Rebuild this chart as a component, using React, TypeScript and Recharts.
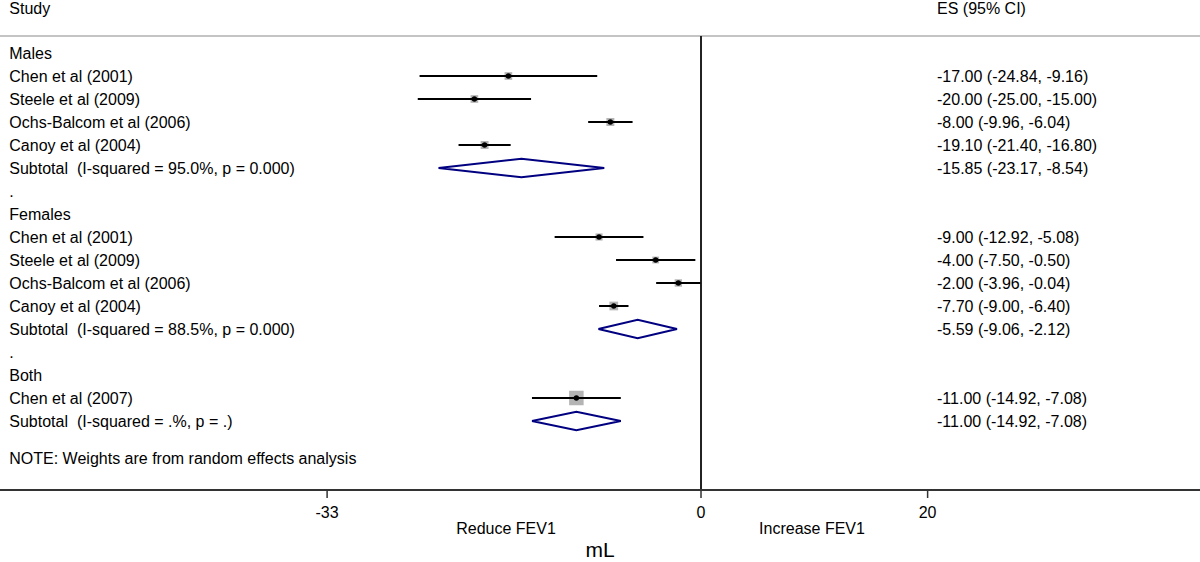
import { ComposedChart, Scatter, XAxis, YAxis, ReferenceLine } from 'recharts';

// left column, one label per row (row index = position in list)
const rowLabels = [
  'Males',
  'Chen et al (2001)',
  'Steele et al (2009)',
  'Ochs-Balcom et al (2006)',
  'Canoy et al (2004)',
  'Subtotal  (I-squared = 95.0%, p = 0.000)',
  '.',
  'Females',
  'Chen et al (2001)',
  'Steele et al (2009)',
  'Ochs-Balcom et al (2006)',
  'Canoy et al (2004)',
  'Subtotal  (I-squared = 88.5%, p = 0.000)',
  '.',
  'Both',
  'Chen et al (2007)',
  'Subtotal  (I-squared = .%, p = .)',
];

const studyRows = [1, 2, 3, 4, 8, 9, 10, 11, 15];
const studyES = [-17.0, -20.0, -8.0, -19.1, -9.0, -4.0, -2.0, -7.7, -11.0];
const studyLo = [-24.84, -25.0, -9.96, -21.4, -12.92, -7.5, -3.96, -9.0, -14.92];
const studyHi = [-9.16, -15.0, -6.04, -16.8, -5.08, -0.5, -0.04, -6.4, -7.08];
const studyWeight = [28, 28, 30, 30, 24, 22, 26, 36, 100];

const subtotalRows = [5, 12, 16];
const subtotalES = [-15.85, -5.59, -11.0];
const subtotalLo = [-23.17, -9.06, -14.92];
const subtotalHi = [-8.54, -2.12, -7.08];

const xTicks = [-33, 0, 20];

const FONT = '"Liberation Sans", Arial, Helvetica, sans-serif';
const X_MIN = -61.87;
const X_MAX = 44.04;
const Y_MIN = -2.304;
const Y_MAX = 19;
const LEFT_X = -61.05;
const RIGHT_X = 20.83;
const HEADER_Y = -1.93;
const RULE_Y = -0.74;
const NOTE_Y = 17.6;

const fmt = (v: number) => v.toFixed(2);

const leftText = [
  { x: LEFT_X, y: HEADER_Y, label: 'Study' },
  ...rowLabels.map((label, i) => ({ x: LEFT_X, y: i, label })),
  { x: LEFT_X, y: NOTE_Y, label: 'NOTE: Weights are from random effects analysis' },
];

const rightText = [
  { x: RIGHT_X, y: HEADER_Y, label: 'ES (95% CI)' },
  ...studyRows.map((r, i) => ({
    x: RIGHT_X,
    y: r,
    label: `${fmt(studyES[i])} (${fmt(studyLo[i])}, ${fmt(studyHi[i])})`,
  })),
  ...subtotalRows.map((r, i) => ({
    x: RIGHT_X,
    y: r,
    label: `${fmt(subtotalES[i])} (${fmt(subtotalLo[i])}, ${fmt(subtotalHi[i])})`,
  })),
];

const markers = studyRows.map((r, i) => ({ x: studyES[i], y: r, w: studyWeight[i] }));

const TextShape = (p: any) => (
  <text
    x={p.cx}
    y={p.cy}
    dy="0.36em"
    fontSize={16}
    fontFamily={FONT}
    fill="#000"
    style={{ whiteSpace: 'pre' }}
  >
    {p.payload.label}
  </text>
);

const SquareShape = (p: any) => {
  const s = 14.5 * Math.sqrt(p.payload.w / 100);
  return <rect x={p.cx - s / 2} y={p.cy - s / 2} width={s} height={s} fill="#b4b4b4" />;
};

const DotShape = (p: any) => <circle cx={p.cx} cy={p.cy} r={2.7} fill="#000" />;

const NoShape = () => <g />;

const BottomLabels = (props: any) => {
  const vb = props.viewBox || { x: 0, y: 490, width: 1200 };
  return (
    <g fontFamily={FONT} fill="#000">
      <text x={vb.x + 506} y={vb.y + 44} fontSize={16} textAnchor="middle">
        Reduce FEV1
      </text>
      <text x={vb.x + 812} y={vb.y + 44} fontSize={16} textAnchor="middle">
        Increase FEV1
      </text>
      <text x={vb.x + vb.width / 2} y={vb.y + 67} fontSize={21} textAnchor="middle">
        mL
      </text>
    </g>
  );
};

export default function App() {
  return (
    <div style={{ position: 'absolute', left: 0, top: 0, width: 1200, height: 562, background: '#fff' }}>
      <ComposedChart width={1200} height={562} margin={{ top: 0, right: 0, bottom: 0, left: 0 }}>
        <XAxis
          type="number"
          dataKey="x"
          domain={[X_MIN, X_MAX]}
          ticks={xTicks}
          allowDataOverflow
          height={72}
          tickSize={8}
          tickMargin={9}
          axisLine={{ stroke: '#333', strokeWidth: 2 }}
          tickLine={{ stroke: '#333', strokeWidth: 1.5 }}
          tick={{ fill: '#000', fontSize: 16, fontFamily: FONT }}
          label={<BottomLabels />}
        />
        <YAxis type="number" dataKey="y" domain={[Y_MIN, Y_MAX]} reversed hide allowDataOverflow />
        <ReferenceLine y={RULE_Y} stroke="#c4c4c4" strokeWidth={2} />
        <ReferenceLine
          segment={[
            { x: 0, y: RULE_Y },
            { x: 0, y: Y_MAX },
          ]}
          stroke="#222"
          strokeWidth={2}
        />
        <Scatter data={leftText} shape={TextShape} isAnimationActive={false} />
        <Scatter data={rightText} shape={TextShape} isAnimationActive={false} />
        <Scatter data={markers} shape={SquareShape} isAnimationActive={false} />
        {studyRows.map((r, i) => (
          <Scatter
            key={'ci' + i}
            data={[
              { x: studyLo[i], y: r },
              { x: studyHi[i], y: r },
            ]}
            line={{ stroke: '#000', strokeWidth: 2 }}
            shape={NoShape}
            isAnimationActive={false}
          />
        ))}
        <Scatter data={markers} shape={DotShape} isAnimationActive={false} />
        {subtotalRows.map((r, i) => (
          <Scatter
            key={'dia' + i}
            data={[
              { x: subtotalLo[i], y: r },
              { x: subtotalES[i], y: r - 0.4 },
              { x: subtotalHi[i], y: r },
              { x: subtotalES[i], y: r + 0.4 },
              { x: subtotalLo[i], y: r },
            ]}
            line={{ stroke: '#000080', strokeWidth: 2, fill: 'none' }}
            shape={NoShape}
            isAnimationActive={false}
          />
        ))}
      </ComposedChart>
    </div>
  );
}
